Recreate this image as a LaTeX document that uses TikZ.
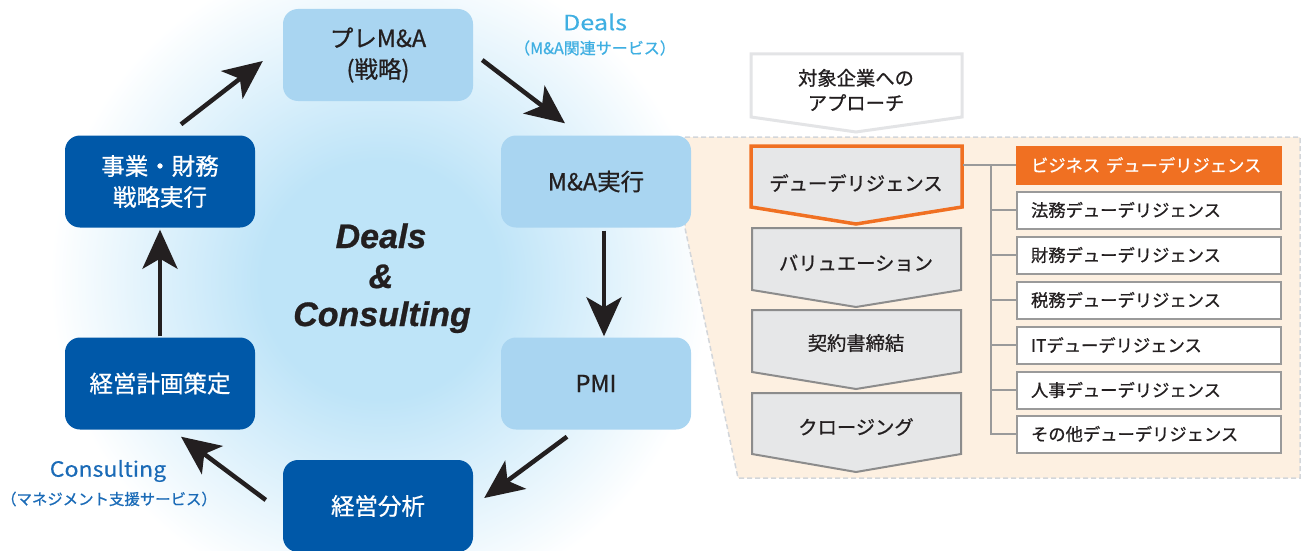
\documentclass[tikz,border=0pt]{standalone}
\usepackage{fontspec}
\setmainfont{Noto Sans CJK JP}[FakeBold=0.8]
\newfontfamily\latinbi{Liberation Sans}[FakeBold=0.8]
\newfontfamily\dealsfont{Noto Sans CJK JP}[FakeStretch=1.2, FakeBold=0.3]
\newfontfamily\consfont{Noto Sans CJK JP}[FakeStretch=1.1, FakeBold=0.3]
\usetikzlibrary{arrows.meta}
\definecolor{darkblue}{HTML}{0058A8}
\definecolor{lightblue}{HTML}{A9D5F1}
\definecolor{glowblue}{HTML}{BEE4F8}
\definecolor{dealsc}{HTML}{3FAFE2}
\definecolor{consc}{HTML}{1B6BB7}
\definecolor{txt}{HTML}{231F20}
\definecolor{panelfill}{HTML}{FDF0E1}
\definecolor{dashc}{HTML}{D3D6DA}
\definecolor{chevfill}{HTML}{E6E7E8}
\definecolor{chevline}{HTML}{8C8C8C}
\definecolor{orangec}{HTML}{F07022}
\definecolor{apprline}{HTML}{E3E4E6}
\definecolor{connc}{HTML}{9A9A9A}
\pgfdeclareradialshading{glowshade}{\pgfpoint{0bp}{0bp}}{color(0bp)=(glowblue); color(9bp)=(glowblue); color(25bp)=(white); color(50bp)=(white)}
\tikzset{
  lbox/.style={rounded corners=15pt, fill=lightblue, minimum width=190pt, minimum height=92pt,
    align=center, font=\fontsize{23.5}{31}\selectfont, text=txt, inner sep=0pt},
  dbox/.style={lbox, fill=darkblue, text=white},
  cyc/.style={line width=4.5pt, draw=txt, -{Stealth[length=39pt,width=35pt,inset=10pt]}},
  chev/.style={fill=chevfill, draw=chevline, line width=2pt, line join=miter},
  chevhl/.style={fill=chevfill, draw=orangec, line width=3.5pt, line join=miter},
  chevtxt/.style={font=\fontsize{19.3}{25}\selectfont, text=txt, align=center, inner sep=0pt},
  rbox/.style={draw=connc, line width=2pt, fill=white, minimum width=264pt, minimum height=37pt,
    text width=236pt, inner xsep=14pt, inner ysep=0pt, align=left,
    font=\fontsize{17.3}{17.3}\selectfont, text=txt},
  rboxhl/.style={rbox, draw=orangec, fill=orangec, text=white},
  conn/.style={draw=connc, line width=1.5pt},
  lbl/.style={inner sep=0pt},
  bigtxt/.style={lbl, anchor=base, font=\latinbi\bfseries\itshape\fontsize{34}{34}\selectfont, text=txt}
}
\begin{document}
\begin{tikzpicture}[x=1pt, y=-1pt]
\useasboundingbox (0,0) rectangle (1306,551);
\begin{scope}
\clip (0,0) rectangle (1306,551);
\shade[shading=glowshade] (380,280) circle (330pt);
\end{scope}

% right panel
\draw[dashc, line width=1.5pt, dash pattern=on 5pt off 3pt, fill=panelfill]
  (685,137) -- (1300,137) -- (1300,478) -- (738,478) -- (685,228) -- cycle;

% cycle nodes
\node[lbox] (pre) at (378,55) {プレM\&A\\(戦略)};
\node[lbox] (ma) at (596,181.5) {M\&A実行};
\node[lbox] (pmi) at (596,383.5) {PMI};
\node[dbox] (bunseki) at (378,506) {経営分析};
\node[dbox] (keikaku) at (160,383.5) {経営計画策定};
\node[dbox] (jigyo) at (160,181.5) {事業・財務\\戦略実行};

% cycle arrows
\draw[cyc] ([shift={(21,-11)}]jigyo.north) -- ([shift={(-20,6)}]pre.west);
\draw[cyc] ([shift={(9,5)}]pre.east) -- ([shift={(-31,-12)}]ma.north);
\draw[cyc] ([shift={(8,3)}]ma.south) -- ([shift={(8,-1)}]pmi.north);
\draw[cyc] ([shift={(-29,7)}]pmi.south) -- ([shift={(11,-8)}]bunseki.east);
\draw[cyc] ([shift={(-17,-6)}]bunseki.west) -- ([shift={(21,7)}]keikaku.south);
\draw[cyc] ([shift={(0,-1)}]keikaku.north) -- ([shift={(0,2)}]jigyo.south);

% center text
\node[bigtxt] (cdeals) at (381,248) {Deals};
\node[bigtxt] (camp) at (381,288) {\&};
\node[bigtxt] (ccons) at (382,326) {Consulting};

% labels
\node[lbl, font=\dealsfont\fontsize{21}{21}\selectfont, text=dealsc] (dealslbl) at (595,22) {Deals};
\node[lbl, font=\fontsize{16}{16}\selectfont, text=dealsc] (dealssub) at (595,48) {（M\&A関連サービス）};
\node[lbl, font=\consfont\fontsize{21}{21}\selectfont, text=consc] (conslbl) at (108,471) {Consulting};
\node[lbl, font=\fontsize{15.4}{15.4}\selectfont, text=consc] (conssub) at (109,499) {（マネジメント支援サービス）};

% approach pentagon
\draw[draw=apprline, line width=3pt, fill=white, line join=miter]
  (751,54) -- (962,54) -- (962,117) -- (856,132) -- (751,117) -- cycle;
\node[chevtxt] (appr) at (856,90) {対象企業への\\アプローチ};

% chevrons
\draw[chevhl] (751,146) -- (962,146) -- (962,207) -- (856,224) -- (751,207) -- cycle;
\node[chevtxt] (dd) at (856,183) {デューデリジェンス};
\draw[chev] (752,228) -- (961,228) -- (961,290) -- (856,307) -- (752,290) -- cycle;
\node[chevtxt] (val) at (856,263) {バリュエーション};
\draw[chev] (752,310) -- (961,310) -- (961,372) -- (856,389) -- (752,372) -- cycle;
\node[chevtxt] (keiyaku) at (856,343) {契約書締結};
\draw[chev] (752,393) -- (961,393) -- (961,454) -- (856,472) -- (752,454) -- cycle;
\node[chevtxt] (closing) at (856,427) {クロージング};

% right boxes
\node[rboxhl] (biz) at (1149,165) {ビジネス デューデリジェンス};
\node[rbox] (houmu) at (1149,210) {法務デューデリジェンス};
\node[rbox] (zaimu) at (1149,255) {財務デューデリジェンス};
\node[rbox] (zeimu) at (1149,300) {税務デューデリジェンス};
\node[rbox] (it) at (1149,345) {ITデューデリジェンス};
\node[rbox] (jinji) at (1149,390) {人事デューデリジェンス};
\node[rbox] (sonota) at (1149,434) {その他デューデリジェンス};

% connectors
\coordinate (ddr) at (963,165);
\coordinate (trunk) at (991,165);
\draw[conn] (ddr) -- (biz.west);
\draw[conn] (trunk) |- (sonota.west);
\foreach \n in {houmu,zaimu,zeimu,it,jinji}{
  \draw[conn] (trunk |- \n.west) -- (\n.west);
}
\end{tikzpicture}
\end{document}
